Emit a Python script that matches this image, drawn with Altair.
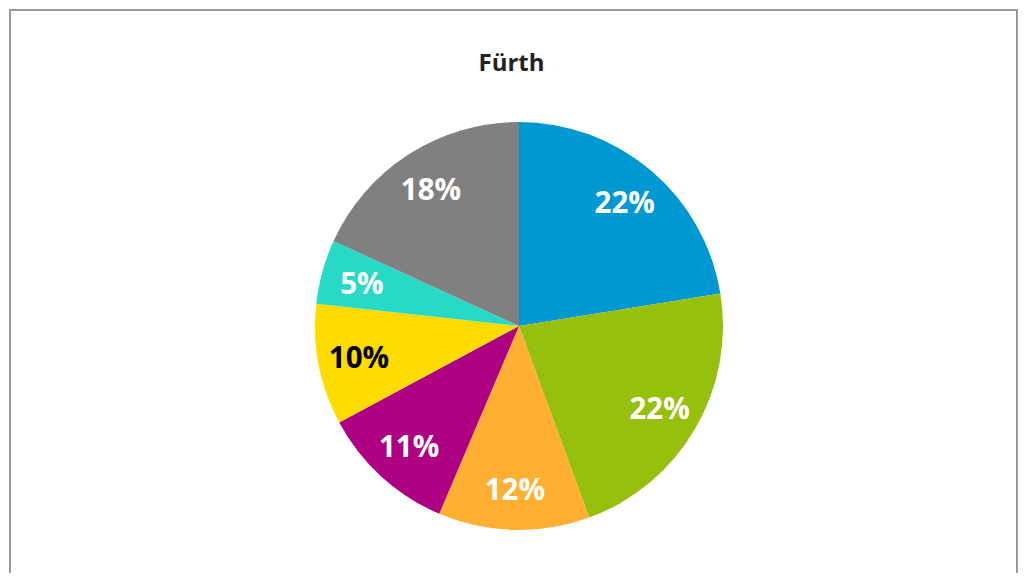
import altair as alt
import pandas as pd

title_text = "Fürth"
categories = ["A", "B", "C", "D", "E", "F", "G"]
values = [22.5, 22.0, 12.0, 10.8, 9.6, 5.1, 18.2]
labels = ["22%", "22%", "12%", "11%", "10%", "5%", "18%"]
colors = ["#0098D3", "#97BF0D", "#FFAF32", "#AE0082", "#FFDC00", "#27D9C6", "#808080"]
label_colors = ["#FFFFFF", "#FFFFFF", "#FFFFFF", "#FFFFFF", "#000000", "#FFFFFF", "#FFFFFF"]

df = pd.DataFrame({
    "cat": categories,
    "value": values,
    "label": labels,
    "idx": list(range(len(categories))),
    "lcol": label_colors,
})

W, H = 1008, 563
CX, CY, R = 509, 316, 204

base = alt.Chart(df).encode(
    theta=alt.Theta("value:Q", stack=True),
    order=alt.Order("idx:Q", sort="ascending"),
)

pie = base.mark_arc(outerRadius=R, stroke=None).encode(
    color=alt.Color("cat:N", scale=alt.Scale(domain=categories, range=colors), legend=None),
    x=alt.value(CX),
    y=alt.value(CY),
)

text = base.mark_text(
    radius=163, fontSize=29.5, fontWeight="bold", font="Open Sans",
    align="center", baseline="middle", dy=2,
).encode(
    text="label:N",
    color=alt.Color("lcol:N", scale=None),
    x=alt.value(CX),
    y=alt.value(CY),
)

title = alt.Chart(pd.DataFrame({"t": [title_text]})).mark_text(
    fontSize=24, fontWeight="bold", font="Open Sans", color="#222222",
    align="center", baseline="alphabetic",
).encode(text="t:N", x=alt.value(501.5), y=alt.value(61))

one = pd.DataFrame({"a": [0]})
frame_style = dict(color="#9a9a9a", strokeWidth=2, clip=False)
left = alt.Chart(one).mark_rule(**frame_style).encode(
    x=alt.value(0), y=alt.value(-1), y2=alt.value(H + 10))
top = alt.Chart(one).mark_rule(**frame_style).encode(
    x=alt.value(-1), x2=alt.value(W), y=alt.value(0))
right = alt.Chart(one).mark_rule(**frame_style).encode(
    x=alt.value(W - 1), y=alt.value(-1), y2=alt.value(H + 10))

chart = alt.layer(pie, text, title, left, top, right).properties(
    width=W, height=H,
    autosize=alt.AutoSizeParams(type="none"),
    padding={"left": 2, "top": 2, "right": 0, "bottom": 0},
).configure_view(stroke=None).configure(background="white")

chart.save("out.html", embed_options={"renderer": "svg", "actions": False})
